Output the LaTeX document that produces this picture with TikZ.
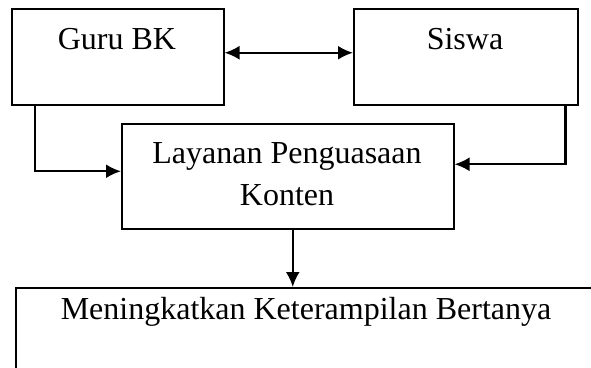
\documentclass[tikz,border=0pt]{standalone}
\usepackage{fontspec}
\setmainfont{Liberation Serif}
\usetikzlibrary{arrows.meta}
\tikzset{>={Latex[length=15pt,width=14pt]}}

\begin{document}
\begin{tikzpicture}[x=1pt,y=-1pt,
    kotak/.style={draw,line width=1.5pt,inner sep=0pt,anchor=north west},
    teks/.style={anchor=base,inner sep=0pt,font=\fontsize{32}{42}\selectfont},
    panah/.style={line width=2.3pt}]
  \clip (0,0) rectangle (591,367);
  % kotak
  \node[kotak,minimum width=212pt,minimum height=96pt] (guru) at (11,8) {};
  \node[kotak,minimum width=224pt,minimum height=96pt] (siswa) at (353,8) {};
  \node[kotak,minimum width=332pt,minimum height=105pt] (layanan) at (121,123) {};
  \node[kotak,minimum width=620pt,minimum height=120pt] (hasil) at (15,287) {};
  % teks
  \node[teks] (guruT) at (117,49) {Guru BK};
  \node[teks] (siswaT) at (465,49) {Siswa};
  \node[teks] (layananA) at (287,163) {Layanan Penguasaan};
  \node[teks] (layananB) at (287,205) {Konten};
  \node[teks] (hasilT) at (306,319) {Meningkatkan Keterampilan Bertanya};
  % panah
  \draw[panah,<->] ([yshift=4pt]guru.east) -- ([yshift=4pt]siswa.west);
  \draw[panah,->] ([xshift=24pt]guru.south west) |- ([yshift=5pt]layanan.west);
  \draw[panah,->] ([xshift=-13pt]siswa.south east) |- ([yshift=12pt]layanan.east);
  \draw[panah,->] ([xshift=5pt]layanan.south) -- ([xshift=5pt]layanan.south |- hasil.north);
\end{tikzpicture}
\end{document}
